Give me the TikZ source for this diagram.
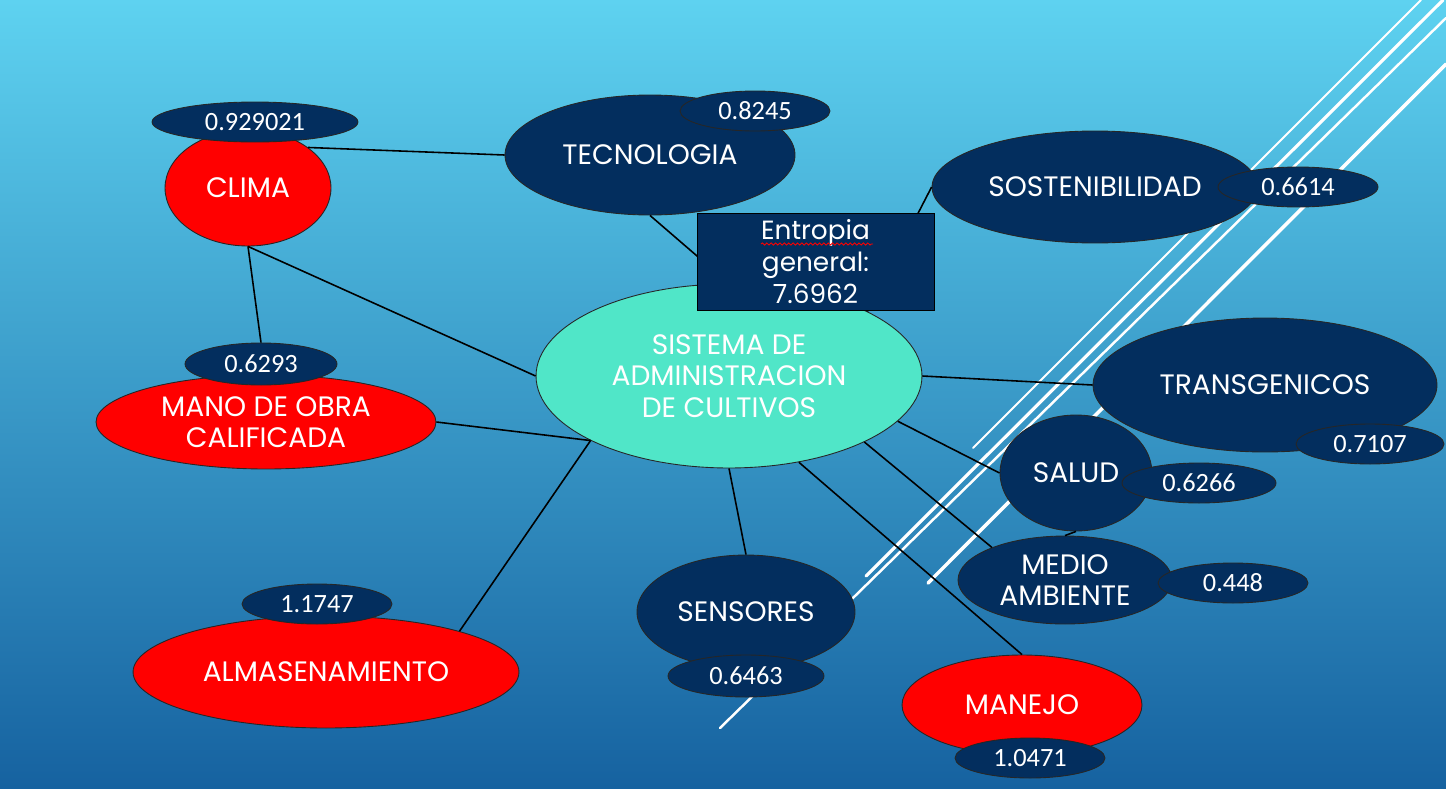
\documentclass[tikz,border=0pt]{standalone}
\usepackage{fontspec}
\setmainfont{Poppins}
\newfontfamily\valfont{Carlito}
\usepackage{xcolor}
\usepackage{tikz}
\usetikzlibrary{positioning, shapes.geometric, decorations.pathmorphing}
\definecolor{navy}{RGB}{3,46,94}
\definecolor{turq}{RGB}{80,230,200}
\definecolor{bgtop}{RGB}{94,210,240}
\definecolor{bgmid}{RGB}{56,156,204}
\definecolor{bgbot}{RGB}{22,98,160}

\begin{document}
\begin{tikzpicture}[
    x=0.02cm, y=-0.02cm,
    every node/.style={
        ellipse,
        draw=black!85,
        line width=0.5pt,
        align=center,
        text=white,
        inner sep=0pt,
        font=\fontsize{16}{17.9}\selectfont
    },
    rednode/.style={fill=red},
    bluenode/.style={fill=navy},
    value/.style={fill=navy, minimum width=3cm, minimum height=0.8cm,
        font=\valfont\fontsize{15}{18}\selectfont},
    entropy/.style={rectangle, fill=navy, draw=black, minimum width=4.74cm,
        minimum height=1.94cm, font=\fontsize{15}{18}\selectfont},
    link/.style={line width=0.9pt, black},
    slice/.style={white, line cap=round}
]

\shade[top color=bgtop, middle color=bgmid, bottom color=bgbot] (0,0) rectangle (1446,788);
\useasboundingbox (0,0) rectangle (1446,788);

% white stripes
\draw[slice, line width=1.1pt] (1421,0) -- (973,448);
\draw[slice, line width=1.8pt] (1443,0) -- (866,576);
\draw[slice, line width=1.4pt] (1446,18) -- (720,728);
\draw[slice, line width=2pt] (1446,64) -- (928,583);

% main nodes
\node[fill=turq, minimum width=7.72cm, minimum height=3.68cm] (sis) at (729,376) {SISTEMA DE\\ADMINISTRACION\\DE CULTIVOS};
\node[rednode, minimum width=3.32cm, minimum height=2.32cm] (clima) at (248,188) {CLIMA};
\node[rednode, minimum width=6.8cm, minimum height=1.88cm] (mano) at (266,422) {MANO DE OBRA\\CALIFICADA};
\node[rednode, minimum width=7.72cm, minimum height=2.24cm] (alma) at (326,672) {ALMASENAMIENTO};
\node[rednode, minimum width=4.8cm, minimum height=2cm] (manejo) at (1022,705) {MANEJO};
\node[bluenode, minimum width=5.8cm, minimum height=2.4cm] (tec) at (650,155) {TECNOLOGIA};
\node[bluenode, minimum width=6.52cm, minimum height=2.24cm] (sos) at (1095,187) {SOSTENIBILIDAD};
\node[bluenode, minimum width=6.88cm, minimum height=2.68cm] (trans) at (1265,385) {TRANSGENICOS};
\node[bluenode, minimum width=3.04cm, minimum height=2.32cm] (salud) at (1076,473) {SALUD};
\node[bluenode, minimum width=4.28cm, minimum height=1.76cm] (medio) at (1065,580) {MEDIO\\AMBIENTE};
\node[bluenode, minimum width=4.36cm, minimum height=2.28cm] (sens) at (746,612) {SENSORES};

% values
\node[value, minimum width=4.12cm] (vclima) at (255,122) {0.929021};
\node[value, minimum width=3.04cm, minimum height=0.84cm] (vmano) at (261,364) {0.6293};
\node[value] (valma) at (317,604) {1.1747};
\node[value] (vtec) at (755,111) {0.8245};
\node[value, minimum width=3.2cm] (vsos) at (1298,187) {0.6614};
\node[value, minimum width=2.96cm] (vtrans) at (1370,444) {0.7107};
\node[value, minimum width=3.08cm] (vsalud) at (1199,483) {0.6266};
\node[value] (vmedio) at (1233,583) {0.448};
\node[value, minimum width=3.12cm, minimum height=0.84cm] (vsens) at (746,676) {0.6463};
\node[value] (vmanejo) at (1030,758) {1.0471};

% links
\draw[link] (clima.34) -- (tec.west);
\draw[link] (clima.south) -- (vmano.north);
\draw[link] (clima.south) -- (sis.west);
\draw[link] (mano.east) -- (sis.205);
\draw[link] (alma.17) -- (sis.205);
\draw[link] (tec.south) -- (sis.north);
\draw[link] (sos.west) -- (sis.25);
\draw[link] (sis.east) -- (trans.west);
\draw[link] (sis.345) -- (salud.west);
\draw[link] (salud.south) -- (medio.north);
\draw[link] (sis.334) -- (medio.156);
\draw[link] (sis.309) -- (manejo.north);
\draw[link] (sis.south) -- (sens.north);

\node[entropy] (ent) at (815.5,261.5) {Entropia\\general:\\7.6962};
\draw[red, line width=0.5pt, decorate, decoration={snake, amplitude=0.6pt, segment length=2.5pt}] (761,244) -- (873,244);

\end{tikzpicture}
\end{document}
